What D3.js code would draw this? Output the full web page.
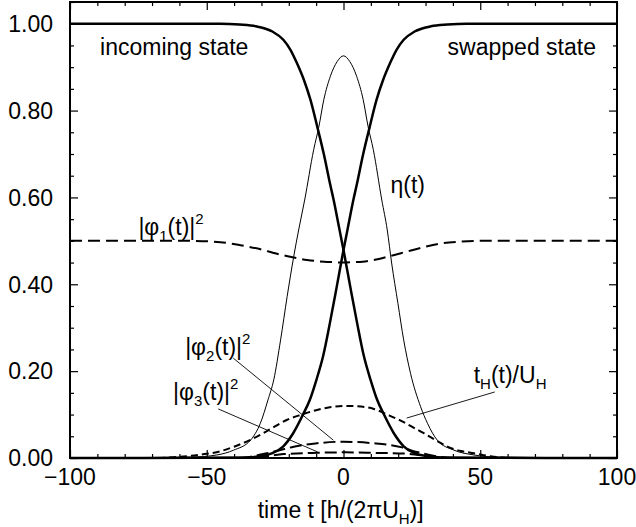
<!DOCTYPE html>
<html>
<head>
<meta charset="utf-8">
<script src="https://cdn.jsdelivr.net/npm/d3@7"></script>
<style>
  body { margin: 0; background: #fff; }
  text { font-family: "Liberation Sans", Arial, Helvetica, sans-serif; fill: #000; }
</style>
</head>
<body>
<script>
// valeurs
const inT  = [-100, -45, -38, -32, -26, -22, -19.4, -17, -14.5, -12.1, -9.6, -7.2, -4.8, -3.6, -1.5, 0, 2.6, 5, 7.4, 9.9, 12.3, 14.8, 18.4, 22, 26, 30, 36, 100]
const inV  = [1, 1, 0.998, 0.994, 0.982, 0.963, 0.94, 0.909, 0.871, 0.825, 0.763, 0.70, 0.628, 0.594, 0.527, 0.479, 0.39, 0.31, 0.236, 0.18, 0.134, 0.100, 0.057, 0.027, 0.011, 0.005, 0.001, 0]

const swT  = [-100, -36, -30, -26, -22, -18.4, -14.8, -12.3, -9.9, -7.4, -5, -2.6, 0, 1.5, 3.6, 4.8, 7.2, 9.6, 12.1, 14.5, 17, 19.4, 22, 26, 32, 38, 45, 100]
const swV  = [0, 0.001, 0.005, 0.011, 0.027, 0.057, 0.100, 0.134, 0.18, 0.236, 0.31, 0.39, 0.479, 0.527, 0.594, 0.628, 0.70, 0.763, 0.825, 0.871, 0.909, 0.94, 0.963, 0.982, 0.994, 0.998, 1, 1]

const etaT = [-100, -56, -46.3, -40.2, -34, -30.4, -27.6, -25.5, -23, -20.6, -18.2, -16.4, -14.2, -10.9, -9, -7.2, -4.8, -2.3, 0, 2.3, 4.8, 7.2, 9, 10.9, 14, 16, 17.6, 19.9, 22, 24.5, 28.2, 30.7, 34.3, 40.4, 47.7, 56, 100]
const etaV = [0, 0.002, 0.007, 0.018, 0.041, 0.08, 0.134, 0.18, 0.272, 0.372, 0.464, 0.525, 0.594, 0.71, 0.763, 0.825, 0.879, 0.913, 0.926, 0.913, 0.879, 0.825, 0.763, 0.71, 0.594, 0.525, 0.449, 0.356, 0.272, 0.195, 0.118, 0.08, 0.041, 0.018, 0.007, 0.002, 0]

const p1T  = [-100, -56, -45, -37.7, -30, -25.5, -20, -13.3, -7, -3.6, 0, 3.6, 7, 11, 17, 23, 29, 35.5, 42, 50, 100]
const p1V  = [0.5, 0.5, 0.497, 0.49, 0.48, 0.472, 0.464, 0.456, 0.452, 0.451, 0.45, 0.451, 0.452, 0.456, 0.465, 0.475, 0.485, 0.494, 0.498, 0.5, 0.5]

const thT  = [-100, -70, -62, -52, -46, -40, -34, -28, -20.6, -15.8, -10, -5, 0, 5, 11.1, 16, 20.9, 25, 29.4, 34, 38, 43, 47.7, 53.8, 62, 100]
const thV  = [0, 0, 0.002, 0.008, 0.014, 0.026, 0.042, 0.062, 0.088, 0.099, 0.11, 0.117, 0.12, 0.119, 0.113, 0.1, 0.086, 0.072, 0.057, 0.04, 0.026, 0.016, 0.011, 0.004, 0, 0]

const p2T  = [-100, -38, -34, -28, -22, -18.2, -9.6, 0, 11, 17, 21, 25, 29.4, 35, 40, 100]
const p2V  = [0, 0, 0.003, 0.011, 0.02, 0.026, 0.034, 0.0375, 0.034, 0.03, 0.025, 0.017, 0.01, 0.003, 0, 0]

const p3T  = [-100, -36, -29, -21.9, -9.6, 0, 10, 23, 32.5, 38, 100]
const p3V  = [0, 0, 0.003, 0.009, 0.012, 0.013, 0.012, 0.01, 0.003, 0, 0]

const xTicks = [-100, -50, 0, 50, 100]
const yTicks = [0, 0.2, 0.4, 0.6, 0.8, 1.0]

const W = 636, H = 527
const mLeft = 70, mRight = 617, mTop = 2, mBottom = 458

const svg = d3.select('body').append('svg')
  .attr('width', W).attr('height', H)

const x = d3.scaleLinear().domain([-100, 100]).range([mLeft, mRight])
const y = d3.scaleLinear().domain([0, 1.05]).range([mBottom, mTop])

// ticks vers l'interieur sur les quatre cotes
const axes = svg.append('g')
const minorX = d3.range(-100, 101, 10)
const minorY = d3.range(0, 1.051, 0.05)
const isMajX = t => xTicks.some(v => Math.abs(v - t) < 1e-6)
const isMajY = t => yTicks.some(v => Math.abs(v - t) < 1e-6)

axes.append('g').call(d3.axisBottom(x).tickValues(minorX).tickSizeInner(0).tickSizeOuter(0).tickFormat(''))
  .attr('transform', `translate(0,${mBottom})`)
  .call(g => g.selectAll('.tick line').attr('y2', d => isMajX(d) ? -8 : -4).attr('stroke-width', 1.2))
  .call(g => g.select('.domain').remove())
axes.append('g').call(d3.axisTop(x).tickValues(minorX).tickSizeInner(0).tickSizeOuter(0).tickFormat(''))
  .attr('transform', `translate(0,${mTop})`)
  .call(g => g.selectAll('.tick line').attr('y2', d => isMajX(d) ? 8 : 4).attr('stroke-width', 1.2))
  .call(g => g.select('.domain').remove())
axes.append('g').call(d3.axisLeft(y).tickValues(minorY).tickSizeInner(0).tickSizeOuter(0).tickFormat(''))
  .attr('transform', `translate(${mLeft},0)`)
  .call(g => g.selectAll('.tick line').attr('x2', d => isMajY(d) ? 8 : 4).attr('stroke-width', 1.2))
  .call(g => g.select('.domain').remove())
axes.append('g').call(d3.axisRight(y).tickValues(minorY).tickSizeInner(0).tickSizeOuter(0).tickFormat(''))
  .attr('transform', `translate(${mRight},0)`)
  .call(g => g.selectAll('.tick line').attr('x2', d => isMajY(d) ? -8 : -4).attr('stroke-width', 1.2))
  .call(g => g.select('.domain').remove())

// etiquettes des axes
svg.append('g').selectAll('text').data(xTicks).enter().append('text')
  .attr('x', d => x(d)).attr('y', mBottom + 27)
  .attr('text-anchor', 'middle').attr('font-size', 23)
  .text(d => d < 0 ? '\u2212' + Math.abs(d) : d)

svg.append('g').selectAll('text').data(yTicks).enter().append('text')
  .attr('x', mLeft - 17).attr('y', d => y(d)).attr('dy', '0.36em')
  .attr('text-anchor', 'end').attr('font-size', 23)
  .text(d => d.toFixed(2))

const xt = svg.append('text').attr('x', x(-1)).attr('y', 518)
  .attr('text-anchor', 'middle').attr('font-size', 23)
xt.append('tspan').text('time t [h/(2\u03c0U')
xt.append('tspan').attr('font-size', 15).attr('dy', 6).text('H')
xt.append('tspan').attr('dy', -6).text(')]')

// courbes
const line = d3.line().x(d => x(d[0])).y(d => y(d[1])).curve(d3.curveMonotoneX)
const zip = (a, b) => a.map((t, i) => [t, b[i]])

const plot = svg.append('g')
const curves = [
  { d: zip(thT, thV),   w: 2,   dash: '7,4' },
  { d: zip(p3T, p3V),   w: 2,   dash: '12,5' },
  { d: zip(p2T, p2V),   w: 2,   dash: '12,5' },
  { d: zip(p1T, p1V),   w: 2,   dash: '12,6' },
  { d: zip(etaT, etaV), w: 1,   dash: null },
  { d: zip(inT, inV),   w: 2.5, dash: null },
  { d: zip(swT, swV),   w: 2.5, dash: null }
]
plot.selectAll('path').data(curves).enter().append('path')
  .attr('d', c => line(c.d))
  .attr('fill', 'none').attr('stroke', '#000')
  .attr('stroke-width', c => c.w)
  .attr('stroke-dasharray', c => c.dash)

// cadre
svg.append('rect').attr('x', mLeft).attr('y', mTop)
  .attr('width', mRight - mLeft).attr('height', mBottom - mTop)
  .attr('fill', 'none').attr('stroke', '#000').attr('stroke-width', 2)

// traits de renvoi
const leaders = [
  [[-40.3, 0.23], [-3.7, 0.041]],
  [[-45.8, 0.113], [-9.5, 0.014]],
  [[55.3, 0.152], [23.1, 0.092]]
]
svg.append('g').selectAll('line').data(leaders).enter().append('line')
  .attr('x1', d => x(d[0][0])).attr('y1', d => y(d[0][1]))
  .attr('x2', d => x(d[1][0])).attr('y2', d => y(d[1][1]))
  .attr('stroke', '#000').attr('stroke-width', 0.9)

// textes
const label = (t, v, anchor) => svg.append('text')
  .attr('x', x(t)).attr('y', y(v)).attr('font-size', 23).attr('text-anchor', anchor || 'start')

label(-89, 0.929).text('incoming state')
label(92.3, 0.929, 'end').text('swapped state')
label(17.2, 0.61).text('\u03b7(t)')

const phi = (t, v, n) => {
  const l = label(t, v)
  l.append('tspan').text('|\u03c6')
  l.append('tspan').attr('font-size', 15).attr('dy', 6).text(n)
  l.append('tspan').attr('dy', -6).text('(t)|')
  l.append('tspan').attr('font-size', 15).attr('dy', -11).text('2')
}
phi(-75, 0.514, '1')
phi(-57.9, 0.237, '2')
phi(-62.3, 0.134, '3')

const th = label(47.6, 0.172)
th.append('tspan').text('t')
th.append('tspan').attr('font-size', 15).attr('dy', 6).text('H')
th.append('tspan').attr('dy', -6).text('(t)/U')
th.append('tspan').attr('font-size', 15).attr('dy', 6).text('H')
</script>
</body>
</html>
